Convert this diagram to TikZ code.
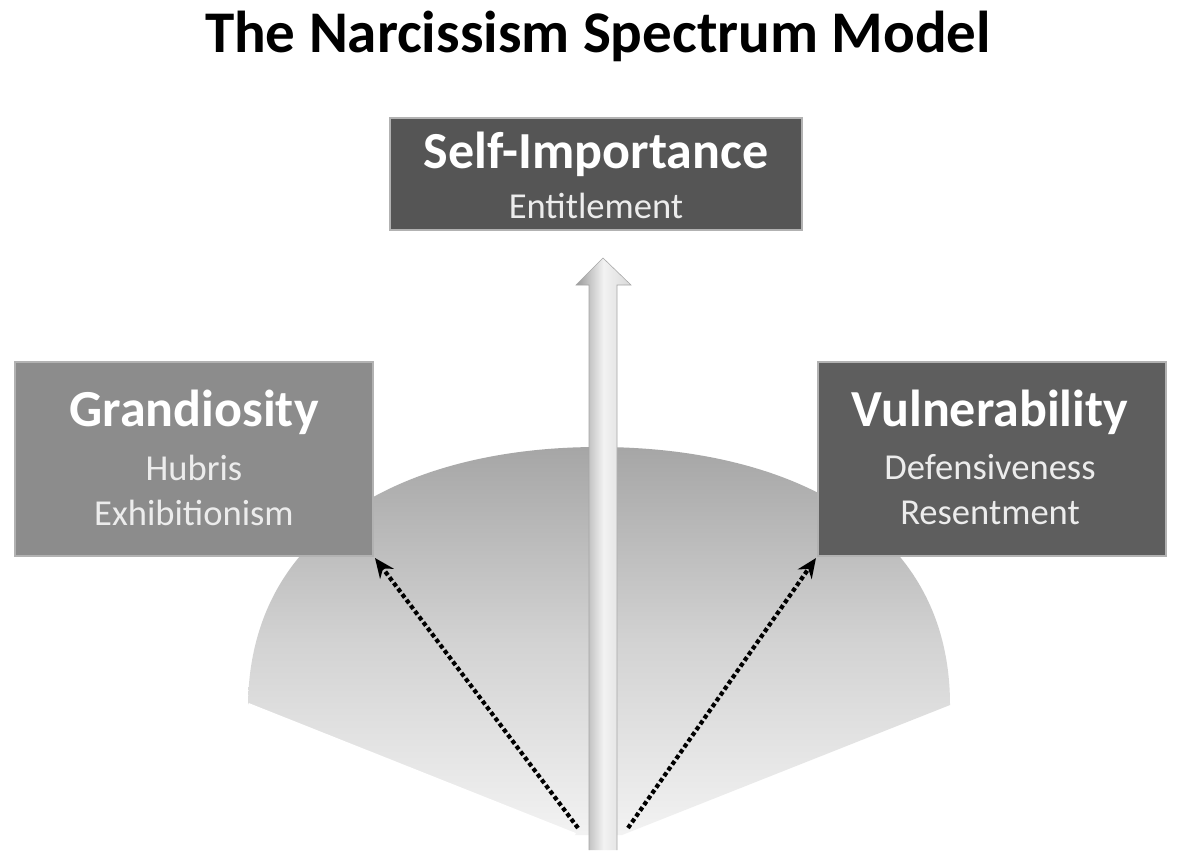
\documentclass[tikz,border=0pt]{standalone}
\usepackage{fontspec}
\setmainfont{Carlito}
\usetikzlibrary{arrows.meta}
\definecolor{boxdark}{HTML}{555555}
\definecolor{boxmid}{HTML}{8C8C8C}
\definecolor{boxside}{HTML}{5E5E5E}
\tikzset{
  panel/.style={draw=gray!60, line width=1.5pt},
  head/.style={font=\fontsize{37}{40}\selectfont\bfseries, text=white},
  sub/.style={font=\fontsize{26}{32}\selectfont, text=gray!15, align=center},
  spoke/.style={line width=3pt, dotted, -{Stealth[length=14pt,width=12pt]}}
}
\begin{document}
\begin{tikzpicture}[x=0.025cm, y=-0.025cm]
  \useasboundingbox (0,0) rectangle (1184,864);
  \fill[white] (0,0) rectangle (1184,864);

  \node (title) at (598,36) {\fontsize{42}{46}\selectfont\bfseries The Narcissism Spectrum Model};

  % fan
  \shade[shading=axis, shading angle=60, top color=gray!70, bottom color=gray!10, middle color=gray!35]
    (248,705) .. controls (250,520) and (420,447) .. (598,447)
    .. controls (780,447) and (950,520) .. (950,705) -- (622,835) -- (575,835) -- cycle;
  \draw[white, line width=3pt] (248,705) -- (575,835);

  % boxes
  \filldraw[panel, fill=boxdark] (390,118) rectangle (802,230);
  \node (selft) at (596,154) [head] {Self-Importance};
  \node (selfs) at (596,206) [sub] {Entitlement};

  \filldraw[panel, fill=boxmid] (15,362) rectangle (373,556);
  \node (grand) at (194,412) [head] {Grandiosity};
  \node (grands) at (194,490) [sub] {Hubris\\Exhibitionism};

  \filldraw[panel, fill=boxside] (818,362) rectangle (1166,556);
  \node (vuln) at (990,412) [head] {Vulnerability};
  \node (vulns) at (990,490) [sub] {Defensiveness\\Resentment};

  % central arrow
  \shade[left color=gray!80, right color=gray!30, middle color=gray!10]
    (589,850) -- (589,285) -- (576,285) -- (603,258) -- (631,285) -- (617,285) -- (617,850) -- cycle;
  \draw[gray!70] (589,850) -- (589,285) -- (576,285) -- (603,258) -- (631,285) -- (617,285) -- (617,850);

  % spokes
  \coordinate (lf) at (578,828);
  \coordinate (rf) at (628,828);
  \coordinate (lt) at (375,558);
  \coordinate (rt) at (816,558);
  \draw[spoke] (lf) -- (lt);
  \draw[spoke] (rf) -- (rt);
\end{tikzpicture}
\end{document}
